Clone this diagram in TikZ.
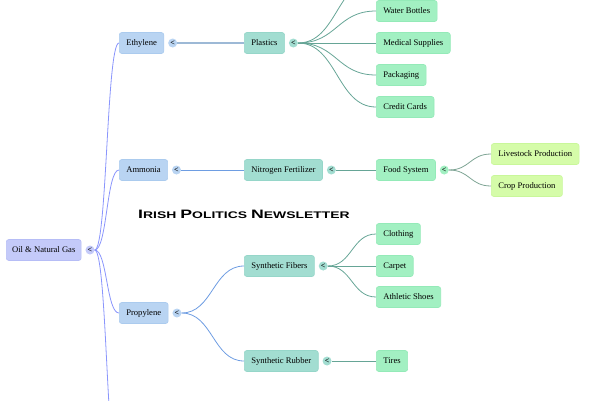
\documentclass[tikz,border=0pt]{standalone}
\usepackage{fontspec}
\setmainfont{Liberation Serif}
\newfontfamily\titlefont{Liberation Sans}[FakeStretch=1.45]
\newcommand\tcap[2]{{\fontsize{12.2}{12}\selectfont #1}{\fontsize{9.6}{10}\selectfont #2}}
\definecolor{rootc}{HTML}{C4CAF9}
\definecolor{rootd}{HTML}{B6BDF6}
\definecolor{lvla}{HTML}{B9D4F2}
\definecolor{lvlad}{HTML}{ABCBEE}
\definecolor{lvlb}{HTML}{A2DDD1}
\definecolor{lvlbd}{HTML}{96D6C9}
\definecolor{leafc}{HTML}{A2F0C2}
\definecolor{leafd}{HTML}{94EAB8}
\definecolor{yelc}{HTML}{D5FCA9}
\definecolor{yeld}{HTML}{C9F79A}
\definecolor{erootc}{HTML}{8A95FC}
\definecolor{eblue}{HTML}{6E9DE2}
\definecolor{egrey}{HTML}{9DB9D6}
\definecolor{eteal}{HTML}{66A596}
\definecolor{esage}{HTML}{7FA595}
\begin{document}
\begin{tikzpicture}[x=1pt,y=-1pt]
\tikzset{
  box/.style={rounded corners=2.5pt, minimum height=21pt, inner xsep=7pt, inner ysep=0pt,
    anchor=west, font=\fontsize{8.6}{9.5}\selectfont, text height=6.2pt, text depth=1.7pt, line width=0.6pt},
  rootbox/.style={box, fill=rootc, draw=rootd, inner xsep=5.8pt},
  abox/.style={box, fill=lvla, draw=lvlad},
  bbox/.style={box, fill=lvlb, draw=lvlbd},
  leafbox/.style={box, fill=leafc, draw=leafd},
  yelbox/.style={box, fill=yelc, draw=yeld},
  tog/.style={circle, inner sep=0pt, minimum size=9pt, font=\fontsize{8}{8}\selectfont\bfseries},
  edge/.style={line width=0.8pt},
}
\useasboundingbox (0,0) rectangle (600,400);

% nodes
\node[rootbox] (root) at (6,250) {Oil \& Natural Gas};
\node[abox] (eth) at (119,43) {Ethylene};
\node[abox] (amm) at (119,170) {Ammonia};
\node[abox] (pro) at (119,313) {Propylene};
\node[bbox] (pla) at (244,43) {Plastics};
\node[bbox] (nit) at (244,170) {Nitrogen Fertilizer};
\node[bbox] (sfi) at (244,266) {Synthetic Fibers};
\node[bbox] (sru) at (244,361) {Synthetic Rubber};
\node[leafbox] (wat) at (376,11) {Water Bottles};
\node[leafbox] (med) at (376,43) {Medical Supplies};
\node[leafbox] (pac) at (376,75) {Packaging};
\node[leafbox] (cre) at (376,107) {Credit Cards};
\node[leafbox] (foo) at (376,170) {Food System};
\node[yelbox] (liv) at (491,154) {Livestock Production};
\node[yelbox] (cro) at (491,186) {Crop Production};
\node[leafbox] (clo) at (376,234) {Clothing};
\node[leafbox] (car) at (376,266) {Carpet};
\node[leafbox] (ath) at (376,297) {Athletic Shoes};
\node[leafbox] (tir) at (376,361) {Tires};
\coordinate (offtop) at (376,-21);
\coordinate (offbot) at (119,480);

% toggles
\node[tog, fill=rootc] (troot) at ([xshift=8.5pt]root.east) {<};
\node[tog, fill=lvla] (teth) at ([xshift=8.5pt]eth.east) {<};
\node[tog, fill=lvla] (tamm) at ([xshift=8.5pt]amm.east) {<};
\node[tog, fill=lvla] (tpro) at ([xshift=8.5pt]pro.east) {<};
\node[tog, fill=lvlb] (tpla) at ([xshift=8.5pt]pla.east) {<};
\node[tog, fill=lvlb] (tnit) at ([xshift=8.5pt]nit.east) {<};
\node[tog, fill=lvlb] (tsfi) at ([xshift=8.5pt]sfi.east) {<};
\node[tog, fill=lvlb] (tsru) at ([xshift=8.5pt]sru.east) {<};
\node[tog, fill=leafc] (tfoo) at ([xshift=8.5pt]foo.east) {<};

% edges root
\begin{scope}[edge, draw=erootc]
\draw (troot.east) .. controls +(12.5,0) and +(-12.5,0) .. (eth.west);
\draw (troot.east) .. controls +(12.5,0) and +(-12.5,0) .. (amm.west);
\draw (troot.east) .. controls +(12.5,0) and +(-12.5,0) .. (pro.west);
\draw (troot.east) .. controls +(12.5,0) and +(-12.5,0) .. (offbot);
\end{scope}
\draw[edge, draw=egrey, line width=1.1pt] (pla.west) -- (teth.east);
\draw[edge, draw=eblue] (nit.west) -- (tamm.east);
\begin{scope}[edge, draw=eblue]
\draw (tpro.east) .. controls +(31,0) and +(-31,0) .. (sfi.west);
\draw (tpro.east) .. controls +(31,0) and +(-31,0) .. (sru.west);
\end{scope}
\begin{scope}[edge, draw=eteal]
\draw (tpla.east) .. controls +(39,0) and +(-39,0) .. (offtop);
\draw (tpla.east) .. controls +(39,0) and +(-39,0) .. (wat.west);
\draw (tpla.east) -- (med.west);
\draw (tpla.east) .. controls +(39,0) and +(-39,0) .. (pac.west);
\draw (tpla.east) .. controls +(39,0) and +(-39,0) .. (cre.west);
\draw (foo.west) -- (tnit.east);
\draw (tsfi.east) .. controls +(24,0) and +(-24,0) .. (clo.west);
\draw (tsfi.east) -- (car.west);
\draw (tsfi.east) .. controls +(24,0) and +(-24,0) .. (ath.west);
\draw (tir.west) -- (tsru.east);
\end{scope}
\begin{scope}[edge, draw=esage]
\draw (tfoo.east) .. controls +(21,0) and +(-21,0) .. (liv.west);
\draw (tfoo.east) .. controls +(21,0) and +(-21,0) .. (cro.west);
\end{scope}

% title
\node[font=\titlefont\bfseries] (title) at (244,214) {\tcap{I}{RISH} \tcap{P}{OLITICS} \tcap{N}{EWSLETTER}};
\end{tikzpicture}
\end{document}
